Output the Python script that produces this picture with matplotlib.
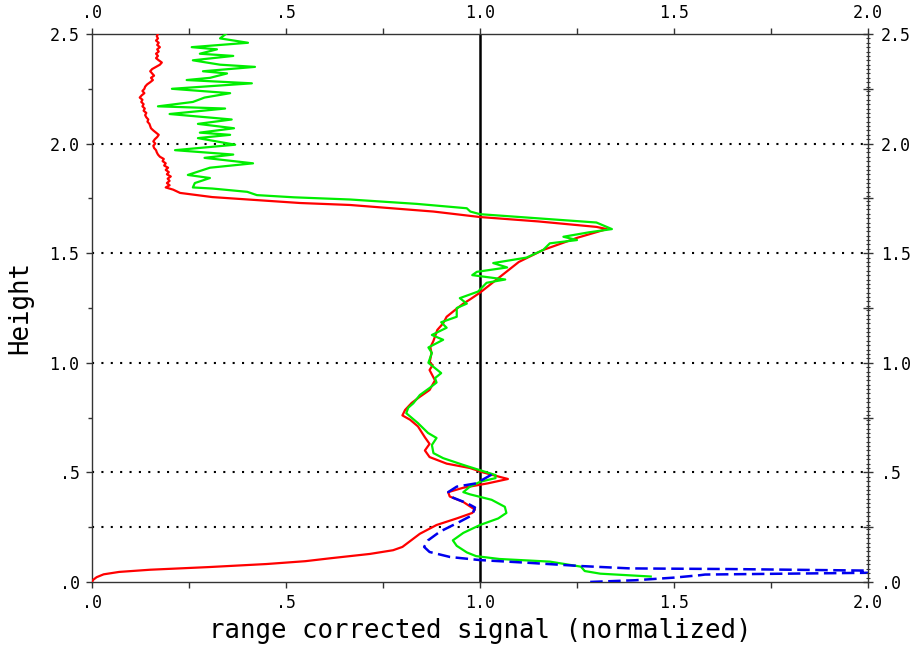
import numpy as np
import matplotlib
matplotlib.use("Agg")
import matplotlib.pyplot as plt
from matplotlib.ticker import MultipleLocator, FuncFormatter

# ---- profiles: (signal, height) ----
red_x = [0.0, 0.003, 0.012, 0.03, 0.07, 0.15, 0.30, 0.45, 0.55, 0.613, 0.716, 0.776,
         0.80, 0.815, 0.845, 0.888, 0.94, 0.98, 0.987, 0.957, 0.922, 0.918, 0.957,
         1.02, 1.072, 1.05, 1.008, 0.974, 0.914, 0.87, 0.858, 0.87, 0.858, 0.84, 0.82,
         0.80, 0.807, 0.824, 0.845, 0.87, 0.884, 0.87, 0.878, 0.87, 0.875, 0.872,
         0.88, 0.885, 0.89, 0.905, 0.914, 0.935, 0.957, 0.975, 1.0, 1.05, 1.10, 1.163,
         1.25, 1.327, 1.30, 1.15, 1.0, 0.88, 0.794, 0.665, 0.536, 0.31, 0.227, 0.209,
         0.19, 0.20, 0.193, 0.20, 0.195, 0.203, 0.193, 0.198, 0.19, 0.196, 0.186, 0.19,
         0.182, 0.185, 0.175, 0.17, 0.167, 0.165, 0.16, 0.158, 0.163, 0.158, 0.162,
         0.168, 0.172, 0.165, 0.158, 0.152, 0.15, 0.148, 0.143, 0.145, 0.14, 0.137,
         0.14, 0.133, 0.136, 0.13, 0.133, 0.127, 0.13, 0.123, 0.128, 0.135, 0.13,
         0.135, 0.137, 0.142, 0.15, 0.157, 0.152, 0.16, 0.155, 0.15, 0.155, 0.165,
         0.175, 0.18, 0.172, 0.165, 0.17, 0.165, 0.172, 0.168, 0.175, 0.168, 0.172,
         0.165, 0.17, 0.167, 0.17]
red_h = [0.0, 0.01, 0.022, 0.035, 0.046, 0.056, 0.068, 0.082, 0.095, 0.108, 0.128, 0.145,
         0.16, 0.18, 0.22, 0.26, 0.29, 0.315, 0.33, 0.365, 0.39, 0.41, 0.43,
         0.45, 0.47, 0.48, 0.50, 0.52, 0.54, 0.57, 0.60, 0.63, 0.66, 0.71, 0.74,
         0.76, 0.785, 0.817, 0.845, 0.876, 0.92, 0.967, 0.99, 1.0, 1.045, 1.07,
         1.10, 1.125, 1.15, 1.18, 1.21, 1.24, 1.27, 1.29, 1.32, 1.39, 1.46, 1.515,
         1.57, 1.61, 1.62, 1.645, 1.665, 1.69, 1.702, 1.72, 1.729, 1.756, 1.775, 1.79,
         1.80, 1.81, 1.82, 1.83, 1.84, 1.85, 1.86, 1.87, 1.88, 1.89, 1.90, 1.91,
         1.92, 1.93, 1.94, 1.95, 1.96, 1.97, 1.98, 1.99, 2.00, 2.01, 2.02,
         2.03, 2.04, 2.05, 2.06, 2.07, 2.08, 2.09, 2.10, 2.11, 2.12, 2.13,
         2.14, 2.15, 2.16, 2.17, 2.18, 2.19, 2.20, 2.21, 2.22, 2.23, 2.24,
         2.25, 2.26, 2.27, 2.28, 2.29, 2.30, 2.31, 2.32, 2.33, 2.34, 2.35,
         2.36, 2.37, 2.38, 2.39, 2.40, 2.41, 2.42, 2.43, 2.44, 2.45, 2.46,
         2.47, 2.48, 2.49, 2.50]

green_x = [1.44, 1.31, 1.27, 1.26, 1.18, 1.05, 0.99, 0.966, 0.94, 0.93, 0.957, 1.0,
           1.047, 1.068, 1.064, 1.03, 0.974, 0.957, 0.974, 1.0, 1.04, 1.04, 1.0, 0.957,
           0.905, 0.88, 0.876, 0.888, 0.866, 0.84, 0.81, 0.815, 0.828, 0.845, 0.87,
           0.888, 0.884, 0.90, 0.867, 0.876, 0.867, 0.905, 0.876, 0.914, 0.90, 0.94,
           0.94, 0.966, 0.948, 0.995, 1.017, 1.065, 0.98, 0.992, 1.07, 1.034, 1.12,
           1.163, 1.18, 1.25, 1.215, 1.28, 1.34, 1.30, 1.0, 0.975, 0.966, 0.837, 0.665,
           0.52, 0.425, 0.40, 0.31, 0.26, 0.265, 0.304, 0.247, 0.304, 0.415, 0.29,
           0.364, 0.214, 0.369, 0.273, 0.356, 0.278, 0.366, 0.273, 0.36, 0.20, 0.343,
           0.17, 0.26, 0.29, 0.356, 0.206, 0.412, 0.244, 0.304, 0.348, 0.286, 0.42,
           0.33, 0.26, 0.364, 0.278, 0.322, 0.257, 0.402, 0.33, 0.345]
green_h = [0.025, 0.038, 0.05, 0.07, 0.093, 0.105, 0.118, 0.135, 0.165, 0.19, 0.224, 0.26,
           0.29, 0.315, 0.343, 0.375, 0.40, 0.41, 0.435, 0.457, 0.474, 0.488, 0.51, 0.534,
           0.565, 0.588, 0.625, 0.657, 0.68, 0.725, 0.77, 0.795, 0.815, 0.853, 0.885,
           0.91, 0.93, 0.953, 1.0, 1.045, 1.07, 1.105, 1.127, 1.16, 1.185, 1.21,
           1.25, 1.27, 1.295, 1.325, 1.365, 1.38, 1.40, 1.415, 1.435, 1.455, 1.48,
           1.515, 1.545, 1.56, 1.575, 1.595, 1.61, 1.64, 1.678, 1.69, 1.705, 1.725, 1.745,
           1.755, 1.765, 1.78, 1.795, 1.80, 1.82, 1.843, 1.857, 1.89, 1.91, 1.935,
           1.95, 1.97, 1.995, 2.025, 2.04, 2.05, 2.07, 2.09, 2.11, 2.135, 2.16,
           2.17, 2.19, 2.21, 2.23, 2.25, 2.275, 2.29, 2.30, 2.32, 2.33, 2.35,
           2.36, 2.38, 2.40, 2.41, 2.43, 2.44, 2.46, 2.48, 2.50]

blue_x = [1.03, 0.99, 0.94, 0.918, 0.93, 0.966, 0.987, 0.98, 0.948, 0.897, 0.866, 0.856,
          0.87, 0.923, 1.0, 1.13, 1.258, 1.387, 1.65, 2.0, 2.1, 2.0, 1.58, 1.567, 1.50,
          1.40, 1.28]
blue_h = [0.49, 0.45, 0.435, 0.41, 0.385, 0.36, 0.34, 0.305, 0.275, 0.23, 0.19, 0.16,
          0.137, 0.114, 0.10, 0.087, 0.073, 0.062, 0.059, 0.052, 0.047, 0.042, 0.034,
          0.031, 0.02, 0.008, 0.0]

grid_heights = [0.25, 0.5, 1.0, 1.5, 2.0]

MONO = "DejaVu Sans Mono"


def short_fmt(v, pos=None):
    s = f"{v:.1f}"
    if s.startswith("0"):
        s = s[1:]
    return s


fig = plt.figure(figsize=(9.16, 6.45), dpi=100)
ax = fig.add_axes([92 / 916, 63 / 645, 776 / 916, 548 / 645])

for h in grid_heights:
    ax.axhline(h, color="black", lw=1.5, ls=(0, (1, 3.5)), zorder=1)
ax.axvline(1.0, color="black", lw=1.8, zorder=2)

ax.plot(red_x, red_h, color="#ff0000", lw=1.6, zorder=3)
ax.plot(green_x, green_h, color="#00ee00", lw=1.6, zorder=4)
ax.plot(blue_x, blue_h, color="#0000ee", lw=1.8, ls=(0, (5.0, 2.2)), zorder=5)

ax.set_xlim(0, 2.0)
ax.set_ylim(0, 2.5)

for sp in ax.spines.values():
    sp.set_linewidth(1.0)
    sp.set_color("#333333")

ax.xaxis.set_major_locator(MultipleLocator(0.5))
ax.xaxis.set_minor_locator(MultipleLocator(0.25))
ax.xaxis.set_major_formatter(FuncFormatter(short_fmt))
ax.tick_params(axis="x", which="both", top=True, bottom=True, labeltop=True,
               direction="out", length=4, width=1.0, color="#333333",
               pad=5, labelsize=12)
ax.yaxis.set_major_locator(MultipleLocator(0.5))
ax.yaxis.set_minor_locator(MultipleLocator(0.25))
ax.yaxis.set_major_formatter(FuncFormatter(short_fmt))
ax.tick_params(axis="y", which="major", left=True, right=False, direction="out",
               length=4, width=1.0, color="#333333", pad=5, labelsize=12)
ax.tick_params(axis="y", which="minor", left=True, right=False, direction="out",
               length=3, width=1.0, color="#333333")
for lab in ax.get_xticklabels() + ax.get_yticklabels():
    lab.set_family(MONO)

# right-hand height scale with fine ticks
ax2 = ax.twinx()
ax2.set_ylim(0, 2.5)
ax2.yaxis.set_major_locator(MultipleLocator(0.25))
ax2.yaxis.set_minor_locator(MultipleLocator(0.02))
ax2.yaxis.set_major_formatter(
    FuncFormatter(lambda v, p: short_fmt(v) if abs(v * 2 - round(v * 2)) < 1e-6 else ""))
ax2.tick_params(axis="y", which="major", direction="inout", length=7, width=1.0,
                color="#333333", pad=6, labelsize=12)
ax2.tick_params(axis="y", which="minor", direction="inout", length=3.5, width=0.8,
                color="#333333")
for lab in ax2.get_yticklabels():
    lab.set_family(MONO)
for sp in ax2.spines.values():
    sp.set_visible(False)

ax.set_xlabel("range corrected signal (normalized)", family=MONO, fontsize=18.5,
              labelpad=4)
ax.set_ylabel("Height", family=MONO, fontsize=18.5, labelpad=12)

fig.savefig("out.png", dpi=100)
